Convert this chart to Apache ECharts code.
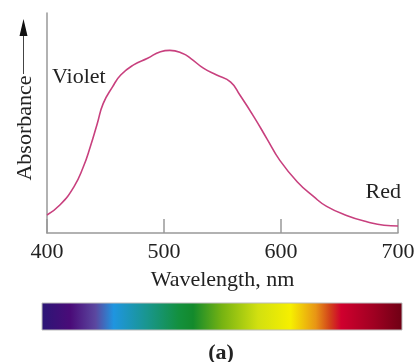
<!DOCTYPE html>
<html>
<head>
<meta charset="utf-8">
<script src="https://cdn.jsdelivr.net/npm/echarts@6/dist/echarts.min.js"></script>
<style>
  html, body { margin: 0; padding: 0; background: #fff; }
  #chart { width: 419px; height: 362px; }
</style>
</head>
<body>
<div id="chart"></div>
<script>
// wavelength (nm) and relative absorbance
const wavelengths = [400, 411, 423, 431, 437, 443, 448, 456, 463, 474, 486, 497, 505, 516, 523, 534, 545, 557, 565, 577, 588, 599, 614, 628, 639, 656, 674, 688, 700];
const absorbance = [0.082, 0.127, 0.21, 0.3, 0.392, 0.498, 0.588, 0.664, 0.718, 0.764, 0.794, 0.824, 0.83, 0.816, 0.793, 0.748, 0.718, 0.686, 0.626, 0.527, 0.428, 0.33, 0.232, 0.165, 0.121, 0.08, 0.05, 0.035, 0.032];
const xTicks = [400, 500, 600, 700];

const serif = "'Liberation Serif', 'DejaVu Serif', serif";
const spectrumStops = [
  [0, "#2b1676"], [0.08, "#4a0b78"], [0.15, "#5b48a0"], [0.2, "#1f95e0"],
  [0.29, "#199690"], [0.38, "#13903e"], [0.42, "#138a2c"], [0.5, "#76b312"],
  [0.6, "#d2e010"], [0.69, "#f6ef00"], [0.76, "#e89515"], [0.8, "#d2401a"],
  [0.83, "#d0002e"], [0.92, "#a00022"], [1, "#6e0014"]
];

const chart = echarts.init(document.getElementById("chart"));
chart.setOption({
  animation: false,
  grid: { left: 47, right: 21, top: 13, bottom: 129 },
  xAxis: {
    type: "value",
    min: 400,
    max: 700,
    interval: 100,
    name: "Wavelength, nm",
    nameLocation: "middle",
    nameGap: 36,
    nameTextStyle: { fontFamily: serif, fontSize: 22, color: "#222" },
    axisLine: { lineStyle: { color: "#999", width: 1.5 } },
    axisTick: { inside: true, length: 14, lineStyle: { color: "#999", width: 1.5 } },
    axisLabel: {
      margin: 8,
      fontFamily: serif,
      fontSize: 22,
      color: "#222",
      formatter: (v) => (xTicks.includes(v) ? String(v) : "")
    },
    splitLine: { show: false }
  },
  yAxis: {
    type: "value",
    min: 0,
    max: 1,
    axisLine: { show: true, lineStyle: { color: "#999", width: 1.5 } },
    axisTick: { show: false },
    axisLabel: { show: false },
    splitLine: { show: false }
  },
  series: [{
    type: "line",
    data: wavelengths.map((w, i) => [w, absorbance[i]]),
    smooth: 0.5,
    symbol: "none",
    lineStyle: { color: "#c8407e", width: 1.6 }
  }],
  graphic: [
    {
      type: "text", x: 25, y: 128, rotation: Math.PI / 2,
      style: { text: "Absorbance", font: "22px " + serif, fill: "#222", align: "center", verticalAlign: "middle" }
    },
    { type: "line", shape: { x1: 23.5, y1: 74, x2: 23.5, y2: 34 }, style: { stroke: "#444", lineWidth: 1 } },
    { type: "polygon", shape: { points: [[19.5, 36], [27.5, 36], [23.5, 19]] }, style: { fill: "#111" } },
    {
      type: "text", x: 52, y: 77,
      style: { text: "Violet", font: "22px " + serif, fill: "#222", align: "left", verticalAlign: "middle" }
    },
    {
      type: "text", x: 401, y: 192,
      style: { text: "Red", font: "22px " + serif, fill: "#222", align: "right", verticalAlign: "middle" }
    },
    {
      type: "rect", shape: { x: 42, y: 303, width: 360, height: 27 },
      style: {
        fill: new echarts.graphic.LinearGradient(0, 0, 1, 0,
          spectrumStops.map(([offset, color]) => ({ offset, color }))),
        stroke: "#bbb", lineWidth: 1
      }
    },
    {
      type: "text", x: 221, y: 353,
      style: { text: "(a)", font: "bold 22px " + serif, fill: "#222", align: "center", verticalAlign: "middle" }
    }
  ]
});
</script>
</body>
</html>
